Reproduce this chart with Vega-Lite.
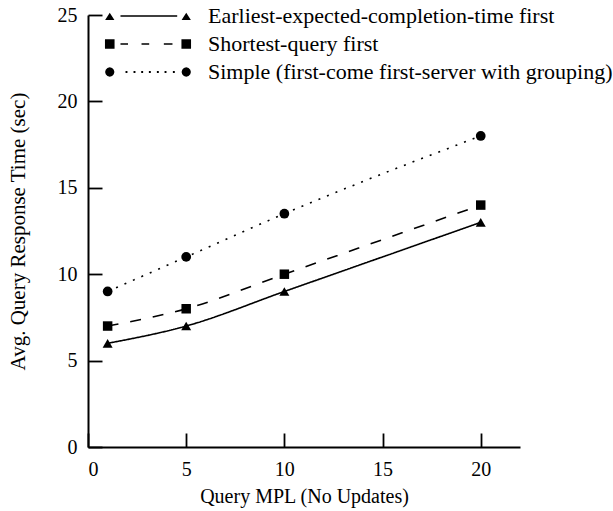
{
  "$schema": "https://vega.github.io/schema/vega-lite/v6.json",
  "width": 432,
  "height": 432,
  "autosize": {"type": "none"},
  "padding": {"left": 88, "top": 15, "right": 93, "bottom": 64},
  "background": "white",
  "config": {
    "view": {"stroke": null},
    "font": "Liberation Serif",
    "axis": {
      "domainColor": "black",
      "domainWidth": 2,
      "tickColor": "black",
      "tickWidth": 1.8,
      "tickSize": -14,
      "labelFont": "Liberation Serif",
      "labelFontSize": 20,
      "labelColor": "black",
      "titleFont": "Liberation Serif",
      "titleFontSize": 20,
      "titleFontWeight": "normal",
      "titleColor": "black",
      "grid": false
    },
    "legend": {
      "labelFont": "Liberation Serif",
      "labelFontSize": 22,
      "labelColor": "black",
      "labelLimit": 600
    }
  },
  "data": {
    "values": [
      {"mpl": 1, "time": 6, "series": "Earliest-expected-completion-time first"},
      {"mpl": 5, "time": 7, "series": "Earliest-expected-completion-time first"},
      {"mpl": 10, "time": 9, "series": "Earliest-expected-completion-time first"},
      {"mpl": 20, "time": 13, "series": "Earliest-expected-completion-time first"},
      {"mpl": 1, "time": 7, "series": "Shortest-query first"},
      {"mpl": 5, "time": 8, "series": "Shortest-query first"},
      {"mpl": 10, "time": 10, "series": "Shortest-query first"},
      {"mpl": 20, "time": 14, "series": "Shortest-query first"},
      {"mpl": 1, "time": 9, "series": "Simple (first-come first-server with grouping)"},
      {"mpl": 5, "time": 11, "series": "Simple (first-come first-server with grouping)"},
      {"mpl": 10, "time": 13.5, "series": "Simple (first-come first-server with grouping)"},
      {"mpl": 20, "time": 18, "series": "Simple (first-come first-server with grouping)"}
    ]
  },
  "encoding": {
    "x": {
      "field": "mpl", "type": "quantitative",
      "scale": {"domain": [0, 22], "nice": false, "zero": true},
      "axis": {"values": [0, 5, 10, 15, 20], "title": "Query MPL (No Updates)", "labelPadding": 26, "titleY": 55, "titleBaseline": "alphabetic", "titleX": 216}
    },
    "y": {
      "field": "time", "type": "quantitative",
      "scale": {"domain": [0, 25], "nice": false},
      "axis": {"values": [0, 5, 10, 15, 20, 25], "title": "Avg. Query Response Time (sec)", "titleFontSize": 21, "labelPadding": 25, "titleX": -64, "titleY": 216, "titleBaseline": "alphabetic", "titleAlign": "center", "titleAngle": 270}
    }
  },
  "layer": [
    {
      "transform": [{"filter": "datum.mpl < 0"}],
      "mark": {"type": "point", "fill": "black", "stroke": "black", "strokeWidth": 1.6, "opacity": 1},
      "encoding": {
        "shape": {
          "field": "series", "type": "nominal",
          "scale": {
            "domain": ["Earliest-expected-completion-time first", "Shortest-query first", "Simple (first-come first-server with grouping)"],
            "range": [
              "M-3.44,-0.1L3.65,-0.1L3.65,0.1L-3.44,0.1ZM-5.36,0.5L-4.78,-0.42L-4.2,0.5ZM4.2,0.5L4.78,-0.42L5.36,0.5Z",
              "M-3.44,-0.1L-2.5,-0.1L-2.5,0.1L-3.44,0.1ZM-0.81,-0.1L0.15,-0.1L0.15,0.1L-0.81,0.1ZM1.98,-0.1L3.06,-0.1L3.06,0.1L1.98,0.1ZM-5.38,-0.6L-4.18,-0.6L-4.18,0.6L-5.38,0.6ZM4.18,-0.6L5.38,-0.6L5.38,0.6L4.18,0.6Z",
              "M-2.81,-0.12L-2.57,-0.12L-2.57,0.12L-2.81,0.12ZM-1.81,-0.12L-1.57,-0.12L-1.57,0.12L-1.81,0.12ZM-0.85,-0.12L-0.61,-0.12L-0.61,0.12L-0.85,0.12ZM0.11,-0.12L0.35,-0.12L0.35,0.12L0.11,0.12ZM1.11,-0.12L1.35,-0.12L1.35,0.12L1.11,0.12ZM2.07,-0.12L2.31,-0.12L2.31,0.12L2.07,0.12ZM3.11,-0.12L3.35,-0.12L3.35,0.12L3.11,0.12ZM-4.2,0L-4.278,0.29L-4.49,0.502L-4.78,0.58L-5.07,0.502L-5.282,0.29L-5.36,0L-5.282,-0.29L-5.07,-0.502L-4.78,-0.58L-4.49,-0.502L-4.278,-0.29ZM5.36,0L5.282,0.29L5.07,0.502L4.78,0.58L4.49,0.502L4.278,0.29L4.2,0L4.278,-0.29L4.49,-0.502L4.78,-0.58L5.07,-0.502L5.282,-0.29Z"
            ]
          },
          "legend": {
            "title": null, "orient": "none", "legendX": 49, "legendY": -10,
            "rowPadding": 6, "labelOffset": 49, "symbolSize": 256,
            "symbolStrokeWidth": 1.6, "symbolFillColor": "black", "symbolStrokeColor": "black", "symbolOpacity": 1
          }
        }
      }
    },
    {
      "mark": {"type": "line", "color": "black", "strokeWidth": 1.6, "interpolate": "monotone"},
      "encoding": {
        "strokeDash": {
          "field": "series", "type": "nominal",
          "scale": {
            "domain": ["Earliest-expected-completion-time first", "Shortest-query first", "Simple (first-come first-server with grouping)"],
            "range": [[1, 0], [11, 12], [2, 7.2]]
          },
          "legend": {
            "title": null, "orient": "none", "legendX": 49, "legendY": -10,
            "rowPadding": 6, "labelOffset": 49, "symbolSize": 256,
            "symbolStrokeWidth": 1.6, "symbolFillColor": "black", "symbolStrokeColor": "black", "symbolOpacity": 1
          }
        }
      }
    },
    {
      "transform": [{"filter": "datum.series === 'Earliest-expected-completion-time first'"}],
      "mark": {"type": "point", "shape": "triangle-up", "filled": true, "color": "black", "opacity": 1, "size": 100}
    },
    {
      "transform": [{"filter": "datum.series === 'Shortest-query first'"}],
      "mark": {"type": "point", "shape": "square", "filled": true, "color": "black", "opacity": 1, "size": 90}
    },
    {
      "transform": [{"filter": "datum.series === 'Simple (first-come first-server with grouping)'"}],
      "mark": {"type": "point", "shape": "circle", "filled": true, "color": "black", "opacity": 1, "size": 95}
    }
  ]
}
